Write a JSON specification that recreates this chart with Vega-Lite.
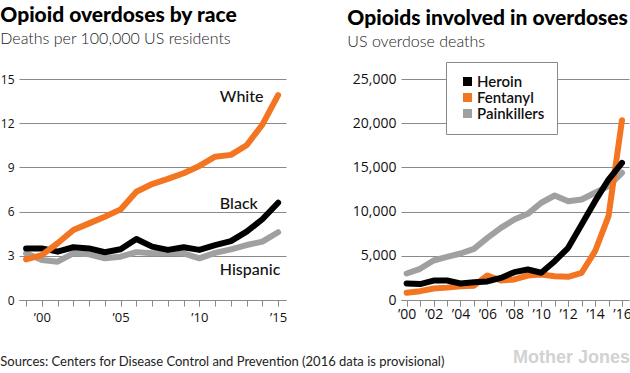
{
  "$schema": "https://vega.github.io/schema/vega-lite/v6.json",
  "background": "white",
  "padding": {"left": 0, "top": 5, "right": 0, "bottom": 5},
  "config": {
    "view": {"stroke": null},
    "font": "Lato",
    "title": {"font": "Lato", "fontSize": 21, "fontWeight": 900, "color": "#000", "anchor": "start", "frame": "bounds", "subtitleFont": "Lato", "subtitleFontSize": 16, "subtitleFontWeight": 300, "subtitleColor": "#222", "subtitlePadding": 5},
    "axis": {"labelFont": "Open Sans", "labelFontSize": 14, "labelColor": "#111", "gridColor": "#8a8a8a", "gridWidth": 1, "domainColor": "#8a8a8a", "tickColor": "#8a8a8a", "title": null}
  },
  "resolve": {"scale": {"color": "independent"}, "legend": {"color": "independent"}},
  "datasets": {
    "race": [
      {"year": 1999, "race": "Hispanic", "rate": 3.17}, {"year": 2000, "race": "Hispanic", "rate": 2.72}, {"year": 2001, "race": "Hispanic", "rate": 2.6}, {"year": 2002, "race": "Hispanic", "rate": 3.17}, {"year": 2003, "race": "Hispanic", "rate": 3.1}, {"year": 2004, "race": "Hispanic", "rate": 2.83}, {"year": 2005, "race": "Hispanic", "rate": 2.94}, {"year": 2006, "race": "Hispanic", "rate": 3.25}, {"year": 2007, "race": "Hispanic", "rate": 3.17}, {"year": 2008, "race": "Hispanic", "rate": 3.2}, {"year": 2009, "race": "Hispanic", "rate": 3.17}, {"year": 2010, "race": "Hispanic", "rate": 2.83}, {"year": 2011, "race": "Hispanic", "rate": 3.2}, {"year": 2012, "race": "Hispanic", "rate": 3.44}, {"year": 2013, "race": "Hispanic", "rate": 3.73}, {"year": 2014, "race": "Hispanic", "rate": 3.96}, {"year": 2015, "race": "Hispanic", "rate": 4.6},
      {"year": 1999, "race": "White", "rate": 2.76}, {"year": 2000, "race": "White", "rate": 3.05}, {"year": 2001, "race": "White", "rate": 3.85}, {"year": 2002, "race": "White", "rate": 4.75}, {"year": 2003, "race": "White", "rate": 5.2}, {"year": 2004, "race": "White", "rate": 5.65}, {"year": 2005, "race": "White", "rate": 6.15}, {"year": 2006, "race": "White", "rate": 7.35}, {"year": 2007, "race": "White", "rate": 7.87}, {"year": 2008, "race": "White", "rate": 8.22}, {"year": 2009, "race": "White", "rate": 8.6}, {"year": 2010, "race": "White", "rate": 9.1}, {"year": 2011, "race": "White", "rate": 9.73}, {"year": 2012, "race": "White", "rate": 9.85}, {"year": 2013, "race": "White", "rate": 10.5}, {"year": 2014, "race": "White", "rate": 11.9}, {"year": 2015, "race": "White", "rate": 13.9},
      {"year": 1999, "race": "Black", "rate": 3.5}, {"year": 2000, "race": "Black", "rate": 3.5}, {"year": 2001, "race": "Black", "rate": 3.28}, {"year": 2002, "race": "Black", "rate": 3.58}, {"year": 2003, "race": "Black", "rate": 3.5}, {"year": 2004, "race": "Black", "rate": 3.24}, {"year": 2005, "race": "Black", "rate": 3.44}, {"year": 2006, "race": "Black", "rate": 4.14}, {"year": 2007, "race": "Black", "rate": 3.62}, {"year": 2008, "race": "Black", "rate": 3.4}, {"year": 2009, "race": "Black", "rate": 3.58}, {"year": 2010, "race": "Black", "rate": 3.4}, {"year": 2011, "race": "Black", "rate": 3.73}, {"year": 2012, "race": "Black", "rate": 4.0}, {"year": 2013, "race": "Black", "rate": 4.64}, {"year": 2014, "race": "Black", "rate": 5.48}, {"year": 2015, "race": "Black", "rate": 6.6}
    ],
    "raceLabels": [
      {"year": 2011.3, "rate": 13.8, "label": "White"},
      {"year": 2011.3, "rate": 6.5, "label": "Black"},
      {"year": 2011.3, "rate": 2.05, "label": "Hispanic"}
    ],
    "drugs": [
      {"year": 2000, "drug": "Painkillers", "deaths": 3000}, {"year": 2001, "drug": "Painkillers", "deaths": 3530}, {"year": 2002, "drug": "Painkillers", "deaths": 4470}, {"year": 2003, "drug": "Painkillers", "deaths": 4880}, {"year": 2004, "drug": "Painkillers", "deaths": 5260}, {"year": 2005, "drug": "Painkillers", "deaths": 5790}, {"year": 2006, "drug": "Painkillers", "deaths": 7030}, {"year": 2007, "drug": "Painkillers", "deaths": 8160}, {"year": 2008, "drug": "Painkillers", "deaths": 9100}, {"year": 2009, "drug": "Painkillers", "deaths": 9750}, {"year": 2010, "drug": "Painkillers", "deaths": 11000}, {"year": 2011, "drug": "Painkillers", "deaths": 11820}, {"year": 2012, "drug": "Painkillers", "deaths": 11180}, {"year": 2013, "drug": "Painkillers", "deaths": 11370}, {"year": 2014, "drug": "Painkillers", "deaths": 12130}, {"year": 2015, "drug": "Painkillers", "deaths": 12880}, {"year": 2016, "drug": "Painkillers", "deaths": 14390},
      {"year": 2000, "drug": "Fentanyl", "deaths": 810}, {"year": 2001, "drug": "Fentanyl", "deaths": 1000}, {"year": 2002, "drug": "Fentanyl", "deaths": 1300}, {"year": 2003, "drug": "Fentanyl", "deaths": 1400}, {"year": 2004, "drug": "Fentanyl", "deaths": 1560}, {"year": 2005, "drug": "Fentanyl", "deaths": 1620}, {"year": 2006, "drug": "Fentanyl", "deaths": 2770}, {"year": 2007, "drug": "Fentanyl", "deaths": 2200}, {"year": 2008, "drug": "Fentanyl", "deaths": 2320}, {"year": 2009, "drug": "Fentanyl", "deaths": 2770}, {"year": 2010, "drug": "Fentanyl", "deaths": 2880}, {"year": 2011, "drug": "Fentanyl", "deaths": 2690}, {"year": 2012, "drug": "Fentanyl", "deaths": 2620}, {"year": 2013, "drug": "Fentanyl", "deaths": 3080}, {"year": 2014, "drug": "Fentanyl", "deaths": 5520}, {"year": 2015, "drug": "Fentanyl", "deaths": 9480}, {"year": 2016, "drug": "Fentanyl", "deaths": 20340},
      {"year": 2000, "drug": "Heroin", "deaths": 1870}, {"year": 2001, "drug": "Heroin", "deaths": 1800}, {"year": 2002, "drug": "Heroin", "deaths": 2200}, {"year": 2003, "drug": "Heroin", "deaths": 2200}, {"year": 2004, "drug": "Heroin", "deaths": 1870}, {"year": 2005, "drug": "Heroin", "deaths": 2000}, {"year": 2006, "drug": "Heroin", "deaths": 2100}, {"year": 2007, "drug": "Heroin", "deaths": 2500}, {"year": 2008, "drug": "Heroin", "deaths": 3150}, {"year": 2009, "drug": "Heroin", "deaths": 3450}, {"year": 2010, "drug": "Heroin", "deaths": 3080}, {"year": 2011, "drug": "Heroin", "deaths": 4390}, {"year": 2012, "drug": "Heroin", "deaths": 5900}, {"year": 2013, "drug": "Heroin", "deaths": 8540}, {"year": 2014, "drug": "Heroin", "deaths": 11180}, {"year": 2015, "drug": "Heroin", "deaths": 13630}, {"year": 2016, "drug": "Heroin", "deaths": 15520}
    ],
    "brand": [{"year": 2016.6, "deaths": -7160, "label": "Mother Jones"}]
  },
  "title": {"text": "Sources: Centers for Disease Control and Prevention (2016 data is provisional)", "orient": "bottom", "anchor": "start", "frame": "bounds", "baseline": "alphabetic", "fontSize": 13, "fontWeight": 400, "font": "Lato", "color": "#222", "offset": -1},
  "spacing": 60,
  "hconcat": [
    {
      "width": 267,
      "height": 221,
      "title": {"text": "Opioid overdoses by race", "subtitle": "Deaths per 100,000 US residents", "offset": 26},
      "resolve": {"axis": {"x": "independent"}},
      "layer": [
        {
          "data": {"name": "race"},
          "transform": [{"filter": "datum.race == 'Hispanic'"}],
          "mark": {"type": "line", "strokeWidth": 6, "strokeCap": "round", "strokeJoin": "round"},
          "encoding": {
            "x": {"field": "year", "type": "quantitative", "scale": {"domain": [1998.55, 2015.5], "nice": false, "zero": false},
              "axis": {"orient": "bottom", "values": [1999,2000,2001,2002,2003,2004,2005,2006,2007,2008,2009,2010,2011,2012,2013,2014,2015], "labels": false, "grid": false, "domain": true, "ticks": true, "tickSize": 6}},
            "y": {"field": "rate", "type": "quantitative", "scale": {"domain": [0, 15], "nice": false},
              "axis": {"values": [0, 3, 6, 9, 12, 15], "domain": false, "ticks": false, "grid": true, "labelPadding": 5, "labelFontSize": 12}},
            "color": {"field": "race", "type": "nominal", "scale": {"domain": ["White", "Black", "Hispanic"], "range": ["#f47521", "#000000", "#a0a0a0"]}, "legend": null}
          }
        },
        {
          "data": {"name": "race"},
          "transform": [{"filter": "datum.race == 'Black'"}],
          "mark": {"type": "line", "strokeWidth": 6, "strokeCap": "round", "strokeJoin": "round"},
          "encoding": {
            "x": {"field": "year", "type": "quantitative", "axis": null},
            "y": {"field": "rate", "type": "quantitative"},
            "color": {"field": "race", "type": "nominal", "legend": null}
          }
        },
        {
          "data": {"name": "race"},
          "transform": [{"filter": "datum.race == 'White'"}],
          "mark": {"type": "line", "strokeWidth": 6, "strokeCap": "round", "strokeJoin": "round"},
          "encoding": {
            "x": {"field": "year", "type": "quantitative", "axis": null},
            "y": {"field": "rate", "type": "quantitative"},
            "color": {"field": "race", "type": "nominal", "legend": null}
          }
        },
        {
          "data": {"name": "raceLabels"},
          "mark": {"type": "text", "align": "left", "baseline": "middle", "fontSize": 16, "font": "Lato", "fontWeight": 500, "color": "#111"},
          "encoding": {
            "x": {"field": "year", "type": "quantitative",
              "axis": {"orient": "bottom", "values": [2000, 2005, 2010, 2015], "labelExpr": "'’' + substring(toString(datum.value), 2, 4)", "grid": false, "domain": false, "ticks": true, "tickSize": 6, "labelPadding": 5, "labelFontSize": 13, "labelFlush": false}},
            "y": {"field": "rate", "type": "quantitative"},
            "text": {"field": "label"}
          }
        }
      ]
    },
    {
      "width": 228,
      "height": 221,
      "title": {"text": "Opioids involved in overdoses", "subtitle": "US overdose deaths", "offset": 12, "dx": -5, "fontSize": 21},
      "resolve": {"axis": {"x": "independent"}},
      "layer": [
        {
          "data": {"name": "drugs"},
          "transform": [{"filter": "datum.drug == 'Painkillers'"}],
          "mark": {"type": "line", "strokeWidth": 6, "strokeCap": "round", "strokeJoin": "round"},
          "encoding": {
            "x": {"field": "year", "type": "quantitative", "scale": {"domain": [1999.58, 2016.52], "nice": false, "zero": false},
              "axis": {"orient": "bottom", "values": [2000,2001,2002,2003,2004,2005,2006,2007,2008,2009,2010,2011,2012,2013,2014,2015,2016], "labels": false, "grid": false, "domain": true, "ticks": true, "tickSize": 6}},
            "y": {"field": "deaths", "type": "quantitative", "scale": {"domain": [0, 25000], "nice": false},
              "axis": {"values": [0, 5000, 10000, 15000, 20000, 25000], "format": ",d", "domain": false, "ticks": false, "grid": true, "labelPadding": 5, "labelFontSize": 14}},
            "color": {"field": "drug", "type": "nominal", "scale": {"domain": ["Heroin", "Fentanyl", "Painkillers"], "range": ["#000000", "#f47521", "#a0a0a0"]},
              "legend": {"title": null, "orient": "none", "legendX": 45, "legendY": -17, "direction": "vertical", "fillColor": "white", "strokeColor": "#8a8a8a", "padding": 12, "symbolType": "square", "symbolSize": 16, "symbolStrokeWidth": 5, "clipHeight": 15, "labelAlign": "left", "labelFontSize": 15, "labelFont": "Lato", "labelFontWeight": 600, "labelColor": "#111", "labelOffset": 2, "rowPadding": 0, "symbolOffset": 2}}
          }
        },
        {
          "data": {"name": "drugs"},
          "transform": [{"filter": "datum.drug == 'Fentanyl'"}],
          "mark": {"type": "line", "strokeWidth": 6, "strokeCap": "round", "strokeJoin": "round"},
          "encoding": {
            "x": {"field": "year", "type": "quantitative", "axis": null},
            "y": {"field": "deaths", "type": "quantitative"},
            "color": {"field": "drug", "type": "nominal"}
          }
        },
        {
          "data": {"name": "drugs"},
          "transform": [{"filter": "datum.drug == 'Heroin'"}],
          "mark": {"type": "line", "strokeWidth": 6, "strokeCap": "round", "strokeJoin": "round"},
          "encoding": {
            "x": {"field": "year", "type": "quantitative", "axis": null},
            "y": {"field": "deaths", "type": "quantitative"},
            "color": {"field": "drug", "type": "nominal"}
          }
        },
        {
          "data": {"name": "brand"},
          "mark": {"type": "text", "align": "right", "baseline": "alphabetic", "fontSize": 18, "font": "Liberation Sans", "fontWeight": "bold", "color": "#d2d2d2", "clip": false},
          "encoding": {
            "x": {"field": "year", "type": "quantitative",
              "axis": {"orient": "bottom", "values": [2000, 2002, 2004, 2006, 2008, 2010, 2012, 2014, 2016], "labelExpr": "'’' + substring(toString(datum.value), 2, 4)", "grid": false, "domain": false, "ticks": true, "tickSize": 6, "labelPadding": 1, "labelFontSize": 14, "labelFlush": false, "labelOverlap": false}},
            "y": {"field": "deaths", "type": "quantitative"},
            "text": {"field": "label"}
          }
        }
      ]
    }
  ]
}
